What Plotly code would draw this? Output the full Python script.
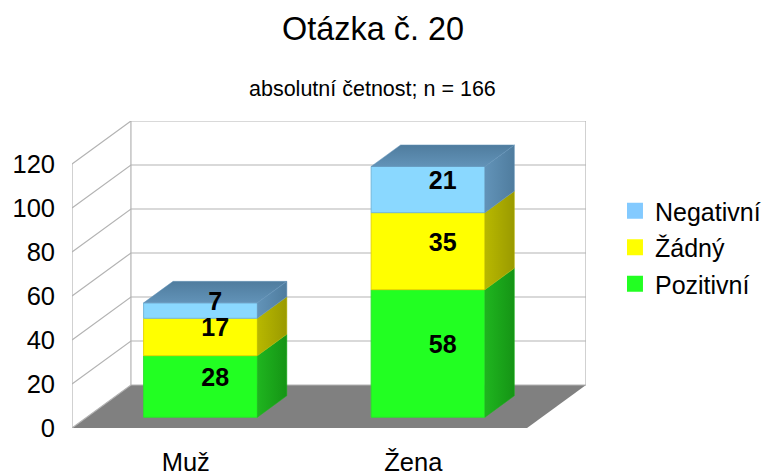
import plotly.graph_objects as go

categories = ["Muž", "Žena"]
series_names = ["Pozitivní", "Žádný", "Negativní"]
pozitivni = [28, 58]
zadny = [17, 35]
negativni = [7, 21]
y_ticks = [0, 20, 40, 60, 80, 100, 120]

series_values = [pozitivni, zadny, negativni]
front_colors = ["#22ff22", "#ffff00", "#8ad8ff"]
edge_colors = ["#2ee02e", "#e6d800", "#74b8dc"]
legend_colors = ["#22ff22", "#ffff00", "#83caff"]
side_colors = [("#1fb51f", "#159415"), ("#b8b800", "#9a9a00"), ("#6293b8", "#4f7c9e")]
top_colors = ("#4f7c9e", "#6293b8")
FONT = "Liberation Sans, Arial, sans-serif"
GRID = "#b3b3b3"

# depth of the pseudo 3D box, in axis units
DX, DY = 0.259, 19.55
BAR_W = 0.5
D0, D1 = 0.25, 0.75
LABEL_NUDGE = -1.8
Y_MAX = y_ticks[-1]
xs = list(range(len(categories)))
X_L, X_R = -0.5, len(categories) - 0.5

fig = go.Figure()
shapes = []


def poly(points):
    return "M " + " L ".join(f"{x},{y}" for x, y in points) + " Z"


# floor
shapes.append(dict(type="path", xref="x", yref="y", layer="below", line=dict(width=0),
                   fillcolor="#808080",
                   path=poly([(X_L, 0), (X_L + DX, DY), (X_R + DX, DY), (X_R, 0)])))
# walls and grid
for t in y_ticks:
    shapes.append(dict(type="path", xref="x", yref="y", layer="below",
                       line=dict(color=GRID, width=1.2),
                       path=f"M {X_L},{t} L {X_L + DX},{t + DY} L {X_R + DX},{t + DY}"))
for path in [f"M {X_L},0 L {X_L},{Y_MAX}",
             f"M {X_L + DX},{DY} L {X_L + DX},{Y_MAX + DY}",
             f"M {X_R + DX},{DY} L {X_R + DX},{Y_MAX + DY}"]:
    shapes.append(dict(type="path", xref="x", yref="y", layer="below",
                       line=dict(color=GRID, width=1.2), path=path))

# bars: front faces
cum = [0] * len(categories)
bases = []
for name, vals, col, edge in zip(series_names, series_values, front_colors, edge_colors):
    base = [c + DY * D0 for c in cum]
    bases.append(base)
    fig.add_trace(go.Bar(x=[x + DX * D0 for x in xs], y=vals, base=base, width=BAR_W,
                         marker=dict(color=col, line=dict(color=edge, width=1)),
                         showlegend=False, hoverinfo="skip"))
    cum = [c + v for c, v in zip(cum, vals)]

# bars: side faces
for vals, base, (c1, c2) in zip(series_values, bases, side_colors):
    for x, v, b in zip(xs, vals, base):
        xr = x + DX * D0 + BAR_W / 2
        d = D1 - D0
        fig.add_trace(go.Scatter(
            x=[xr, xr + DX * d, xr + DX * d, xr, xr],
            y=[b, b + DY * d, b + v + DY * d, b + v, b],
            mode="lines", line=dict(width=0.5, color=c1), fill="toself",
            fillgradient=dict(type="horizontal", colorscale=[[0, c1], [1, c2]]),
            showlegend=False, hoverinfo="skip"))

# bars: top faces
for x, total in zip(xs, cum):
    xl = x + DX * D0 - BAR_W / 2
    d = D1 - D0
    t = total + DY * D0
    fig.add_trace(go.Scatter(
        x=[xl, xl + BAR_W, xl + BAR_W + DX * d, xl + DX * d, xl],
        y=[t, t, t + DY * d, t + DY * d, t],
        mode="lines", line=dict(width=0.5, color=top_colors[1]), fill="toself",
        fillgradient=dict(type="vertical", colorscale=[[0, top_colors[1]], [1, top_colors[0]]]),
        showlegend=False, hoverinfo="skip"))

# value labels
lab_x, lab_y, lab_t = [], [], []
cum = [0] * len(categories)
for vals in series_values:
    for i, v in enumerate(vals):
        lab_x.append(xs[i] + DX * (D0 + D1) / 2)
        lab_y.append(cum[i] + v / 2 + DY * (D0 + D1) / 2 + LABEL_NUDGE)
        lab_t.append(str(v))
    cum = [c + v for c, v in zip(cum, vals)]
fig.add_trace(go.Scatter(x=lab_x, y=lab_y, text=lab_t, mode="text",
                         textfont=dict(family=FONT, size=25, color="#000000", weight="bold"),
                         showlegend=False, hoverinfo="skip"))

# legend entries
for i, (name, col) in enumerate(zip(series_names, legend_colors)):
    fig.add_trace(go.Scatter(x=[None], y=[None], mode="markers", name=name,
                             legendgroup=name, legendrank=len(series_names) - i,
                             marker=dict(symbol="square", size=16, color=col)))

fig.update_layout(
    width=762, height=475, autosize=False,
    paper_bgcolor="#ffffff", plot_bgcolor="#ffffff",
    margin=dict(l=71.5, r=176, t=121, b=47, autoexpand=False),
    font=dict(family=FONT, color="#000000", size=25.5),
    barmode="overlay", shapes=shapes, showlegend=True,
    title=dict(text="Otázka č. 20", x=373 / 762, xanchor="center", y=1 - 29 / 475, yanchor="middle",
               font=dict(family=FONT, size=32.4, color="#000000")),
    annotations=[dict(text="absolutní četnost; n = 166", xref="paper", yref="paper",
                      x=(372 - 71.5) / 514.5, y=1.0,
                      yshift=32, showarrow=False, xanchor="center", yanchor="middle",
                      font=dict(family=FONT, size=21.5, color="#000000"))],
    legend=dict(x=(615 - 71.5) / 514.5, xref="paper", y=(428 - 188) / 307, yanchor="top",
                bgcolor="rgba(0,0,0,0)", tracegroupgap=1, itemsizing="trace",
                font=dict(family=FONT, size=25, color="#000000")),
    xaxis=dict(range=[X_L, X_R + DX], tickmode="array", tickvals=xs, ticktext=categories,
               showgrid=False, zeroline=False, showline=False, ticks="", ticklabelstandoff=16,
               fixedrange=True),
    yaxis=dict(range=[0, Y_MAX + DY], tickmode="array", tickvals=y_ticks,
               ticktext=[str(t) for t in y_ticks],
               showgrid=False, zeroline=False, showline=False, ticks="", ticklabelstandoff=16,
               fixedrange=True),
)
fig.write_html("out.html", config=dict(displayModeBar=False),
               post_script="document.body.style.margin='0';document.documentElement.style.overflow='hidden';")
